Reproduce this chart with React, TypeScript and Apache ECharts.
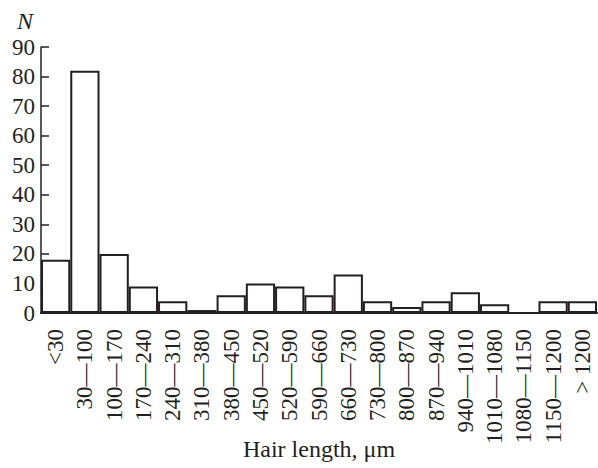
import React, { useEffect, useRef } from "react";
import * as echarts from "echarts";

const categories = [
  "<30", "30—100", "100—170", "170—240", "240—310", "310—380", "380—450",
  "450—520", "520—590", "590—660", "660—730", "730—800", "800—870", "870—940",
  "940—1010", "1010—1080", "1080—1150", "1150—1200", "> 1200",
];
const counts = [18, 82, 20, 9, 4, 1, 6, 10, 9, 6, 13, 4, 2, 4, 7, 3, 0, 4, 4];
const yTicks = { min: 0, max: 90, interval: 10 };
const xTitle = "Hair length, μm";
const yTitle = "N";

const FONT = "'Liberation Serif', 'DejaVu Serif', serif";

export default function App() {
  const ref = useRef<HTMLDivElement>(null);
  useEffect(() => {
    if (!ref.current) return;
    const chart = echarts.init(ref.current, null, { renderer: "svg" });
    chart.setOption({
      animation: false,
      backgroundColor: "#ffffff",
      grid: {
        left: 41,
        right: 1,
        top: 47,
        bottom: 155,
        containLabel: false,
        outerBoundsMode: "none",
      },
      xAxis: {
        type: "category",
        data: categories,
        axisLine: { show: true, lineStyle: { color: "#231f20", width: 2 } },
        axisTick: { show: false },
        axisLabel: {
          rotate: 90,
          interval: 0,
          margin: 16,
          color: "#231f20",
          fontFamily: FONT,
          fontSize: 23,
        },
        name: xTitle,
        nameLocation: "middle",
        nameGap: 124,
        nameMoveOverlap: false,
        nameTextStyle: { color: "#231f20", fontFamily: FONT, fontSize: 24 },
      },
      yAxis: {
        type: "value",
        min: yTicks.min,
        max: yTicks.max,
        interval: yTicks.interval,
        splitLine: { show: false },
        axisLine: { show: true, lineStyle: { color: "#231f20", width: 1.5 } },
        axisTick: { show: true, inside: true, length: 8, lineStyle: { color: "#231f20", width: 1.5 } },
        axisLabel: {
          color: "#231f20",
          fontFamily: FONT,
          fontSize: 23,
          margin: 6,
        },
        name: yTitle,
        nameLocation: "end",
        nameGap: 14,
        nameMoveOverlap: false,
        nameTextStyle: {
          color: "#231f20",
          fontFamily: FONT,
          fontSize: 24,
          fontStyle: "italic",
          align: "right",
          padding: [0, 8, 0, 0],
        },
      },
      series: [
        {
          type: "bar",
          data: counts,
          barCategoryGap: 0,
          itemStyle: { color: "#ffffff", borderColor: "#231f20", borderWidth: 2 },
        },
      ],
    });
    return () => chart.dispose();
  }, []);
  return (
    <div
      ref={ref}
      style={{ position: "absolute", left: 0, top: 0, width: 598, height: 468 }}
    />
  );
}
